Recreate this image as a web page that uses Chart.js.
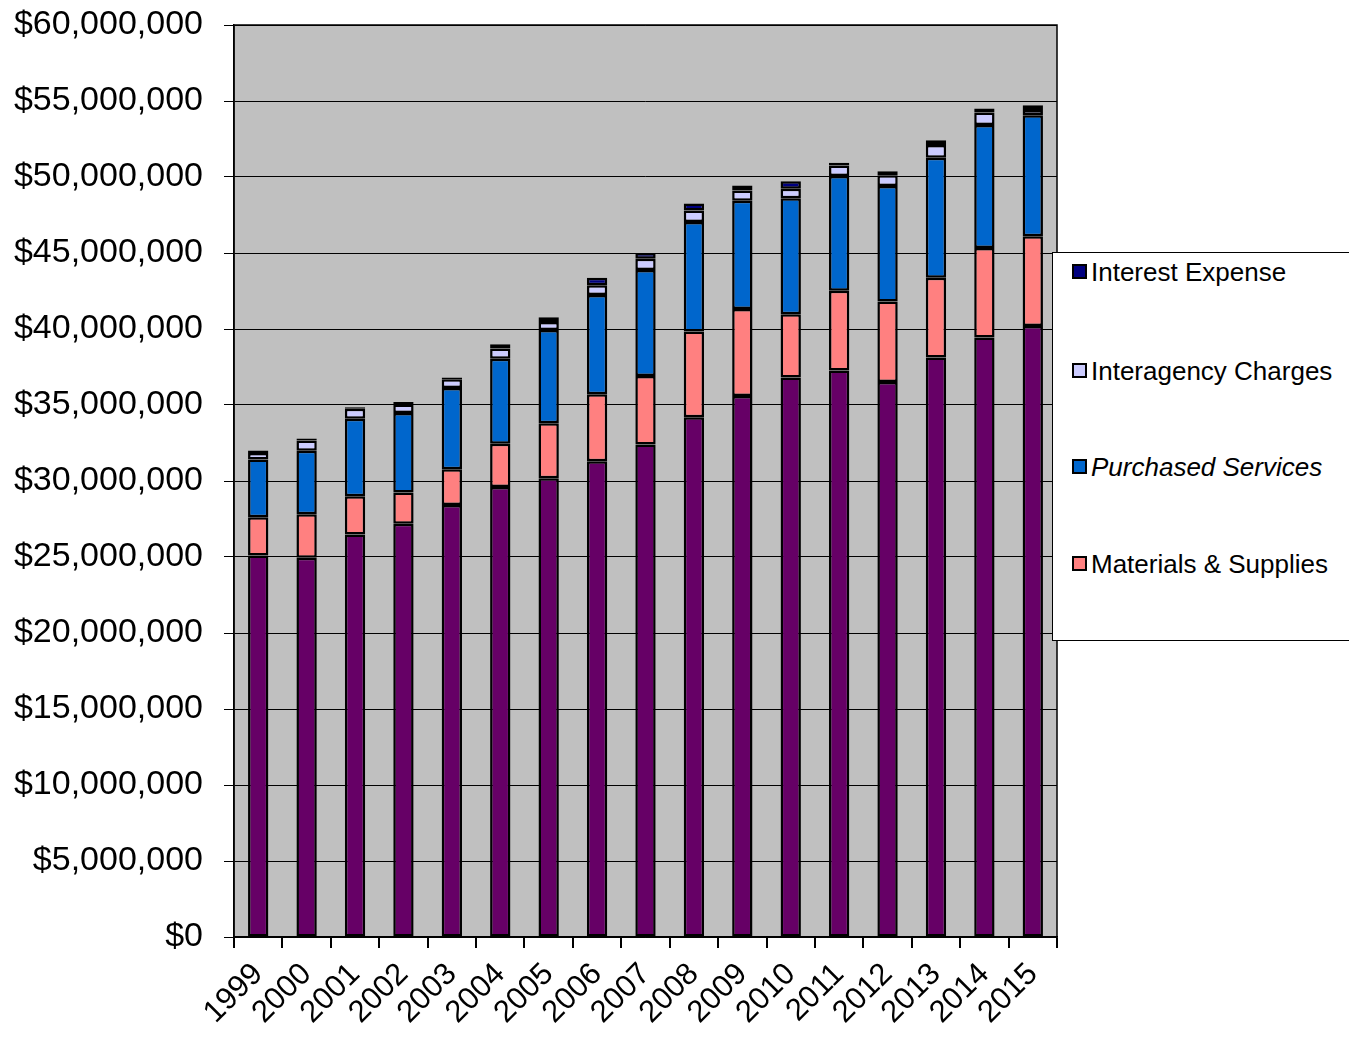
<!DOCTYPE html>
<html>
<head>
<meta charset="utf-8">
<script src="https://cdn.jsdelivr.net/npm/chart.js@4.4.1/dist/chart.umd.min.js"></script>
<style>
  html, body { margin: 0; padding: 0; background: #fff; }
  #wrap { position: relative; width: 1349px; height: 1038px; overflow: hidden; }
  #legend {
    position: absolute; left: 1052px; top: 252px; width: 320px; height: 389px;
    background: #fff; border: 1px solid #000; box-sizing: border-box;
    font-family: "Liberation Sans", Arial, sans-serif; font-size: 26px; color: #000;
  }
  .item { position: absolute; left: 19px; height: 30px; line-height: 30px; white-space: nowrap; }
  .sw { display: inline-block; width: 11px; height: 11px; border: 2px solid #000; vertical-align: middle; margin-right: 4px; position: relative; top: -3px; }
</style>
</head>
<body>
<div id="wrap">
  <canvas id="c" width="1349" height="1038"></canvas>
  <div id="legend"></div>
</div>
<script>
const years = ['1999','2000','2001','2002','2003','2004','2005','2006','2007','2008','2009','2010','2011','2012','2013','2014','2015'];

const salaries     = [25100000, 24950000, 26480000, 27180000, 28420000, 29610000, 30180000, 31300000, 32400000, 34200000, 35600000, 36810000, 37270000, 36520000, 38130000, 39440000, 40200000];
const materials    = [2520000, 2870000, 2520000, 2070000, 2360000, 2840000, 3620000, 4410000, 4510000, 5640000, 5720000, 4160000, 5240000, 5290000, 5240000, 5890000, 5900000];
const purchased    = [3800000, 4170000, 5100000, 5230000, 5340000, 5590000, 6130000, 6530000, 6970000, 7200000, 7110000, 7630000, 7550000, 7590000, 7890000, 8090000, 7970000];
const interagency  = [430000, 680000, 650000, 560000, 570000, 680000, 530000, 640000, 740000, 760000, 680000, 630000, 700000, 720000, 850000, 820000, 330000];
const interest     = [160000, 130000, 110000, 150000, 120000, 280000, 310000, 490000, 380000, 460000, 330000, 490000, 170000, 260000, 300000, 260000, 320000];

const seriesNames  = ['Salaries & Benefits', 'Materials & Supplies', 'Purchased Services', 'Interagency Charges', 'Interest Expense'];
const seriesColors = ['#660066', '#FF8080', '#0066CC', '#CCCCFF', '#000080'];
const legendOrder  = [4, 3, 2, 1];
const italicSeries = ['Purchased Services'];
const legendTops   = [256, 355, 451, 548];

const yMin = 0, yMax = 60000000, yStep = 5000000;

const seriesData = [salaries, materials, purchased, interagency, interest];

const plotBg = {
  id: 'plotBg',
  beforeDraw(chart) {
    const {ctx, chartArea: a} = chart;
    ctx.save();
    ctx.fillStyle = '#C0C0C0';
    ctx.fillRect(a.left, a.top, a.right - a.left, a.bottom - a.top);
    ctx.restore();
  },
  afterDraw(chart) {
    const {ctx, chartArea: a} = chart;
    ctx.save();
    ctx.strokeStyle = '#000';
    ctx.lineWidth = 1.5;
    ctx.strokeRect(a.left, a.top, a.right - a.left, a.bottom - a.top);
    ctx.restore();
  }
};

const tickFont = { family: '"Liberation Sans", Arial, sans-serif', size: 34 };

new Chart(document.getElementById('c'), {
  type: 'bar',
  data: {
    labels: years,
    datasets: seriesData.map((d, i) => ({
      label: seriesNames[i],
      data: d,
      backgroundColor: seriesColors[i],
      borderColor: '#000',
      borderWidth: 2.5,
      borderSkipped: false,
      barPercentage: 0.42,
      categoryPercentage: 1.0
    }))
  },
  options: {
    responsive: false,
    animation: false,
    devicePixelRatio: 1,
    layout: { padding: { top: 25, right: 292, left: 0, bottom: 0 } },
    plugins: { legend: { display: false }, tooltip: { enabled: false } },
    scales: {
      x: {
        stacked: true,
        grid: { offset: true, drawOnChartArea: false, drawTicks: true, tickLength: 11, color: '#000', lineWidth: 2 },
        border: { color: '#000', width: 1.5 },
        ticks: { autoSkip: false, maxRotation: 45, minRotation: 45, color: '#000', padding: 8,
                 font: { family: '"Liberation Sans", Arial, sans-serif', size: 31 } },
        afterFit(scale) { scale.height = 101; scale.paddingLeft = 0; scale.paddingRight = 0; }
      },
      y: {
        stacked: true,
        min: yMin, max: yMax,
        grid: { color: '#000', lineWidth: 1, tickLength: 10 },
        border: { color: '#000', width: 1.5 },
        ticks: {
          stepSize: yStep, color: '#000', padding: 21, font: tickFont,
          callback: v => '$' + Number(v).toLocaleString('en-US')
        },
        afterFit(scale) { scale.width = 234; scale.paddingTop = 0; scale.paddingBottom = 0; }
      }
    }
  },
  plugins: [plotBg]
});

const legend = document.getElementById('legend');
legendOrder.forEach((si, k) => {
  const div = document.createElement('div');
  div.className = 'item';
  div.style.top = (legendTops[k] - 252) + 'px';
  const sw = document.createElement('span');
  sw.className = 'sw';
  sw.style.background = seriesColors[si];
  const tx = document.createElement('span');
  tx.textContent = seriesNames[si];
  if (italicSeries.includes(seriesNames[si])) tx.style.fontStyle = 'italic';
  div.appendChild(sw);
  div.appendChild(tx);
  legend.appendChild(div);
});
</script>
</body>
</html>
